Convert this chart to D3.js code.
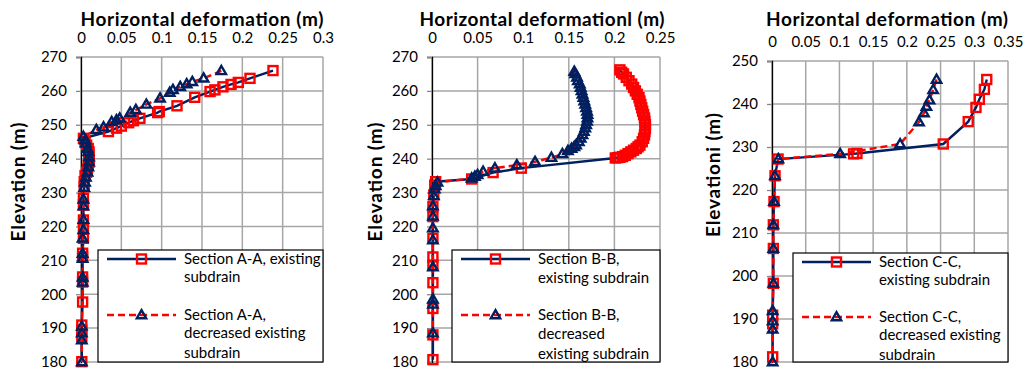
<!DOCTYPE html>
<html>
<head>
<meta charset="utf-8">
<script src="https://cdn.jsdelivr.net/npm/d3@7"></script>
<style>
  body { margin: 0; background: #fff; }
  svg text { font-family: Lato, "Open Sans", sans-serif; fill: #000; }
</style>
</head>
<body>
<svg id="chart" width="1024" height="369"></svg>
<script>
"use strict"

// ---- data ----
// Section A-A
var aExisting = [[0.238,266],[0.2095,263.7],[0.195,262.5],[0.186,261.9],[0.176,261.2],[0.166,260.3],[0.160,259.8],[0.141,258.1],[0.119,255.6],[0.097,253.9],[0.095,253.6],[0.073,251.9],[0.065,251.2],[0.059,250.6],[0.05,249.6],[0.044,249.0],[0.034,248.0],[0.003,246.0],[0.005,245],[0.007,244],[0.009,243],[0.010,242],[0.010,241],[0.010,240],[0.010,239],[0.009,238],[0.008,237],[0.007,236],[0.005,235],[0.004,233.2],[0.004,231.7],[0.003,228.3],[0.003,226.3],[0.003,221.9],[0.003,219.5],[0.003,216.5],[0.002,212.1],[0.002,211],[0.002,205.1],[0.002,203.6],[0.002,197.7],[0.001,190.9],[0.001,189.4],[0.001,187.5],[0.001,180.1]];
var aDecreased = [[0.174,265.9],[0.152,263.7],[0.138,262.7],[0.131,262],[0.123,261.2],[0.114,260.3],[0.110,259.5],[0.098,257.8],[0.081,256],[0.068,254.4],[0.061,253.6],[0.048,251.9],[0.044,251.4],[0.038,250.9],[0.028,249.3],[0.019,248.5],[0.003,246.5],[0.005,245.5],[0.006,244.5],[0.008,243],[0.009,242],[0.010,240.5],[0.010,239],[0.009,237.5],[0.008,236],[0.006,234.5],[0.005,233],[0.004,231.5],[0.003,228],[0.003,226],[0.003,222],[0.003,219],[0.002,216.5],[0.002,212],[0.002,210.5],[0.002,205],[0.002,203.5],[0.001,190.5],[0.001,188.5],[0.001,186.5],[0.001,180]];

// Section B-B
var bExisting = [[0.206,266.2],[0.208,265.5],[0.210,265],[0.213,264],[0.216,263],[0.219,262],[0.221,261],[0.223,260],[0.225,259],[0.227,258],[0.228,257],[0.229,256],[0.230,255],[0.231,254],[0.232,253],[0.233,252],[0.2335,251],[0.234,250],[0.234,249],[0.2335,248],[0.233,247],[0.232,246],[0.2305,245],[0.228,244],[0.226,243.5],[0.224,243],[0.221,242.5],[0.218,242],[0.215,241.5],[0.212,241],[0.209,240.6],[0.206,240.4],[0.2035,240.3],[0.201,240.2],[0.098,237.2],[0.067,235.9],[0.0435,234],[0.004,233.2],[0.003,232.2],[0.002,229.3],[0.001,225.8],[0.001,222.9],[0.001,216.5],[0.001,211],[0.001,208.6],[0.001,203.4],[0.001,195.8],[0.001,188],[0.001,180.7]];
var bDecreased = [[0.156,265.7],[0.157,265],[0.159,264],[0.160,263],[0.162,262],[0.163,261],[0.164,260],[0.165,259],[0.166,258],[0.167,257],[0.168,256],[0.169,255],[0.170,254],[0.1705,253],[0.1705,252],[0.170,251],[0.169,250],[0.168,249],[0.1665,248],[0.165,247],[0.163,246],[0.161,245],[0.158,244],[0.156,243.5],[0.153,243],[0.149,242.3],[0.143,241.4],[0.131,240.3],[0.113,239.1],[0.093,238.1],[0.069,237.2],[0.056,236.2],[0.05,235.2],[0.047,234.7],[0.0435,234.2],[0.006,233],[0.004,232],[0.003,231],[0.002,229],[0.001,226],[0.001,223],[0.001,219.5],[0.001,216],[0.001,208],[0.001,198.5],[0.001,197],[0.001,188.5]];

// Section C-C
var cExisting = [[0.3185,245.7],[0.315,243.4],[0.3075,241.1],[0.3025,239.2],[0.291,235.9],[0.254,230.7],[0.126,228.5],[0.121,228.4],[0.009,227.2],[0.0045,223.3],[0.003,217.3],[0.002,211.9],[0.002,206.4],[0.002,198.3],[0.001,190.9],[0.001,188.9],[0.001,181.2]];
var cDecreased = [[0.244,245.7],[0.239,243.3],[0.2335,240.9],[0.229,239.4],[0.2254,237.9],[0.218,235.8],[0.19,230.7],[0.101,228.4],[0.0094,227.2],[0.0045,223.3],[0.003,217.3],[0.002,211.9],[0.002,206.4],[0.002,198.3],[0.001,191.9],[0.001,189.5],[0.001,187.6],[0.001,180]];

var xTicksAC = [0,0.05,0.1,0.15,0.2,0.25,0.3];
var xTicksB = [0,0.05,0.1,0.15,0.2,0.25];
var xTicksC = [0,0.05,0.1,0.15,0.2,0.25,0.3,0.35];
var yTicksAB = [180,190,200,210,220,230,240,250,260,270];
var yTicksC = [180,190,200,210,220,230,240,250];

var titles = ["Horizontal deformation (m)", "Horizontal deformationl (m)", "Horizontal deformation (m)"];
var yLabels = ["Elevation (m)", "Elevation (m)", "Elevationi (m)"];
var legendA = [["Section A-A, existing", "subdrain"], ["Section A-A,", "decreased existing", "subdrain"]];
var legendB = [["Section B-B,", "existing subdrain"], ["Section B-B,", "decreased", "existing subdrain"]];
var legendC = [["Section C-C,", "existing subdrain"], ["Section C-C,", "decreased existing", "subdrain"]];

// ---- layout ----
var NAVY = "#002060", RED = "#ff0000", GRID = "#a6a6a6";

var panels = [
  {l: 81, r: 323, t: 57, b: 362, xMax: 0.3, xTicks: xTicksAC, yMin: 180, yMax: 270, yTicks: yTicksAB,
   s1: aExisting, s2: aDecreased, title: titles[0], titleW: 243, titleX: 202, ylab: yLabels[0], ylabX: 25, ylabY: 182, ylabW: 119, legend: legendA,
   lg: {x: 98, y: 250, rows: [259, 277, 315, 333, 353]}},
  {l: 432, r: 660, t: 57, b: 362, xMax: 0.25, xTicks: xTicksB, yMin: 180, yMax: 270, yTicks: yTicksAB,
   s1: bExisting, s2: bDecreased, title: titles[1], titleW: 245, titleX: 542, ylab: yLabels[1], ylabX: 382, ylabY: 182, ylabW: 119, legend: legendB,
   lg: {x: 452, y: 250, rows: [259, 278, 315, 334, 354]}},
  {l: 772, r: 1008, t: 61, b: 362, xMax: 0.35, xTicks: xTicksC, yMin: 180, yMax: 250, yTicks: yTicksC,
   s1: cExisting, s2: cDecreased, title: titles[2], titleW: 242, titleX: 887, ylab: yLabels[2], ylabX: 720, ylabY: 175, ylabW: 124, legend: legendC,
   lg: {x: 793, y: 253, rows: [262, 280, 317, 335, 355]}}
];

var svg = d3.select("#chart");

function square(g, x, y) {
  g.append("rect").attr("x", x - 4.5).attr("y", y - 4.5).attr("width", 9).attr("height", 9)
    .attr("fill", "none").attr("stroke", RED).attr("stroke-width", 2.4);
}
function triangle(g, x, y) {
  g.append("path").attr("d", d3.symbol().type(d3.symbolTriangle).size(38)())
    .attr("transform", "translate(" + x + "," + (y + 0.5) + ")")
    .attr("fill", "none").attr("stroke", NAVY).attr("stroke-width", 2.4);
}

panels.forEach(function (p) {
  var x = d3.scaleLinear().domain([0, p.xMax]).range([p.l, p.r]);
  var y = d3.scaleLinear().domain([p.yMin, p.yMax]).range([p.b, p.t]);
  var g = svg.append("g");

  // gridlines
  g.selectAll(".vg").data(p.xTicks).enter().append("line")
    .attr("x1", d => x(d)).attr("x2", d => x(d)).attr("y1", p.t).attr("y2", p.b)
    .attr("stroke", GRID).attr("stroke-width", 1.5);
  g.selectAll(".hg").data(p.yTicks).enter().append("line")
    .attr("x1", p.l).attr("x2", p.r).attr("y1", d => y(d)).attr("y2", d => y(d))
    .attr("stroke", GRID).attr("stroke-width", 1.5);

  // axes
  var xa = g.append("g").attr("transform", "translate(0," + p.t + ")")
    .call(d3.axisTop(x).tickValues(p.xTicks).tickSize(0).tickPadding(14).tickFormat(d => String(d)));
  xa.select(".domain").remove();
  xa.selectAll("text").style("font-size", "15px");

  var ya = g.append("g").attr("transform", "translate(" + p.l + ",0)")
    .call(d3.axisLeft(y).tickValues(p.yTicks).tickSize(5).tickPadding(9));
  ya.select(".domain").attr("stroke", "#000").attr("stroke-width", 1.3);
  ya.selectAll(".tick line").attr("stroke", "#888").attr("stroke-width", 1.3);
  ya.selectAll("text").style("font-size", "15px");

  // titles
  g.append("text").attr("x", p.titleX).attr("y", 26).attr("text-anchor", "middle")
    .attr("textLength", p.titleW).attr("lengthAdjust", "spacing")
    .style("font-size", "19px").style("font-weight", "bold").text(p.title);
  g.append("text").attr("transform", "translate(" + p.ylabX + "," + p.ylabY + ") rotate(-90)")
    .attr("text-anchor", "middle").attr("textLength", p.ylabW).attr("lengthAdjust", "spacing")
    .style("font-size", "19px").style("font-weight", "bold").text(p.ylab);

  // series
  var line = d3.line().x(d => x(d[0])).y(d => y(d[1]));
  g.append("path").datum(p.s1).attr("d", line).attr("fill", "none")
    .attr("stroke", NAVY).attr("stroke-width", 2.4);
  p.s1.forEach(d => square(g, x(d[0]), y(d[1])));
  g.append("path").datum(p.s2).attr("d", line).attr("fill", "none")
    .attr("stroke", RED).attr("stroke-width", 2.4).attr("stroke-dasharray", "7,4");
  p.s2.forEach(d => triangle(g, x(d[0]), y(d[1])));

  // legend
  var lg = g.append("g");
  lg.append("rect").attr("x", p.lg.x).attr("y", p.lg.y).attr("width", p.r - p.lg.x).attr("height", p.b - p.lg.y)
    .attr("fill", "#fff").attr("stroke", "#000").attr("stroke-width", 1.2);
  var sx = p.lg.x + 9, ex = p.lg.x + 78, mx = (sx + ex) / 2, tx = p.lg.x + 86;
  var r1 = p.lg.rows[0], r2 = p.lg.rows[2];
  lg.append("line").attr("x1", sx).attr("x2", ex).attr("y1", r1).attr("y2", r1)
    .attr("stroke", NAVY).attr("stroke-width", 2.4);
  square(lg, mx, r1);
  lg.append("line").attr("x1", sx).attr("x2", ex).attr("y1", r2).attr("y2", r2)
    .attr("stroke", RED).attr("stroke-width", 2.4).attr("stroke-dasharray", "7,4");
  triangle(lg, mx, r2);
  var lines = p.legend[0].concat(p.legend[1]);
  lines.forEach(function (t, i) {
    lg.append("text").attr("x", tx).attr("y", p.lg.rows[i]).attr("dy", "0.35em")
      .style("font-size", "15px").text(t);
  });
});
</script>
</body>
</html>
